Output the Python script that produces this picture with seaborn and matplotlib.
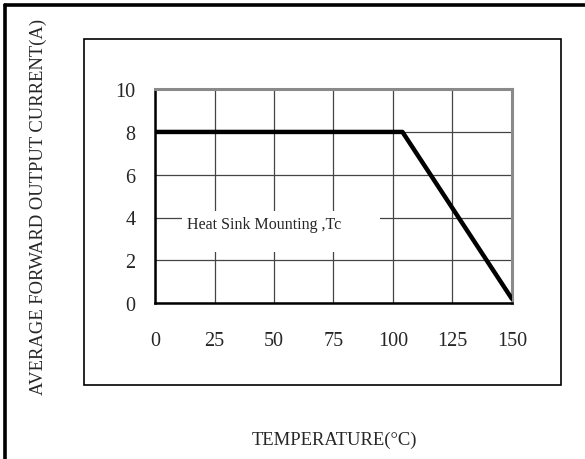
import matplotlib
matplotlib.use("Agg")
import matplotlib.pyplot as plt
import matplotlib.patches as patches
import matplotlib.lines as mlines
import numpy as np
import pandas as pd
import seaborn as sns

# derating curve
TEMPS = [0, 104, 150]
CURRENT = [8.0, 8.0, 0.2]
XTICKS = [0, 25, 50, 75, 100, 125, 150]
YTICKS = [0, 2, 4, 6, 8, 10]

sns.set_style("white")
plt.rcParams['font.family'] = ['Liberation Serif', 'DejaVu Serif']

df = pd.DataFrame({'temp': TEMPS, 'current': CURRENT})

fig = plt.figure(figsize=(5.85, 4.6), dpi=100)
ax = fig.add_axes([0.265, 0.339, 0.61, 0.465])

ax.set_xlim(0, 150)
ax.set_ylim(0, 10)
ax.set_xticks(XTICKS)
ax.set_yticks(YTICKS)
ax.grid(True, color='#444444', linewidth=0.9)
ax.set_axisbelow(True)

sns.lineplot(data=df, x='temp', y='current', ax=ax, color='black', linewidth=3.2, zorder=3)

# white label background that blanks the grid behind the note
ax.add_patch(patches.Rectangle((0.075, 0.238), 0.555, 0.192, transform=ax.transAxes,
                               facecolor='white', edgecolor='none', zorder=2))
ax.text(13.5, 3.7, 'Heat Sink Mounting ,Tc', fontsize=11.5, va='center', ha='left', zorder=4)

ax.tick_params(axis='x', length=0, pad=20, labelsize=14.5)
ax.tick_params(axis='y', length=0, pad=14, labelsize=14.5)
ax.set_xlabel('')
ax.set_ylabel('')

for side in ['left', 'bottom']:
    ax.spines[side].set_color('black')
    ax.spines[side].set_linewidth(1.8)
for side in ['top', 'right']:
    ax.spines[side].set_color('#8a8a8a')
    ax.spines[side].set_linewidth(2.2)
    ax.spines[side].set_visible(True)

# inner frame around plot and tick labels
fig.patches.append(patches.Rectangle((0.1436, 0.161), 0.815, 0.752, transform=fig.transFigure,
                                     fill=False, edgecolor='black', linewidth=1.2))
# thick outer edges on left and top
fig.lines.append(mlines.Line2D([0.0094, 0.0094], [0.0, 0.988], transform=fig.transFigure,
                               color='black', linewidth=2.6))
fig.lines.append(mlines.Line2D([0.0094, 1.0], [0.988, 0.988], transform=fig.transFigure,
                               color='black', linewidth=2.6))

fig.text(0.066, 0.55, 'AVERAGE FORWARD OUTPUT CURRENT(A)', rotation=90, ha='center', va='center',
         fontsize=13.4)
fig.text(0.572, 0.043, 'TEMPERATURE(°C)', ha='center', va='center', fontsize=13.4)

fig.savefig('out.png', dpi=100)
